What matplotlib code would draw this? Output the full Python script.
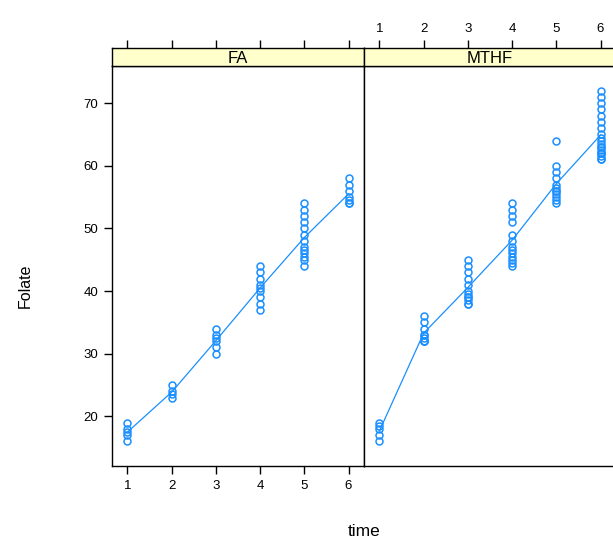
import numpy as np
import matplotlib.pyplot as plt

plt.rcParams['font.family'] = ['Liberation Sans', 'DejaVu Sans']

# folate readings by time point, one list per time
fa_t1 = [16, 17, 17.5, 18, 19]
fa_t2 = [23, 23.5, 24, 25]
fa_t3 = [30, 31, 32, 32.5, 33, 34]
fa_t4 = [37, 38, 39, 40, 40.5, 41, 42, 43, 44]
fa_t5 = [44, 45, 45.5, 46, 46.5, 47, 48, 49, 50, 51, 52, 53, 54]
fa_t6 = [54, 54, 54.5, 55, 56, 57, 58]

mthf_t1 = [16, 17, 18, 18.5, 19]
mthf_t2 = [32, 32, 32, 32.5, 33, 33, 34, 35, 36]
mthf_t3 = [38, 38, 38.5, 39, 39, 39.5, 40, 41, 42, 43, 44, 45]
mthf_t4 = [44, 44.5, 45, 45.5, 46, 46.5, 47, 48, 49, 51, 52, 53, 54]
mthf_t5 = [54, 54.5, 55, 55.5, 56, 56, 56.5, 57, 58, 59, 60, 64]
mthf_t6 = [61, 61, 61.5, 62, 62, 62, 62.5, 63, 63, 63.5, 64, 64.5, 65, 66,
           67, 68, 69, 70, 71, 72]

times = [1, 2, 3, 4, 5, 6]
panels = ["FA", "MTHF"]
groups = {"FA": [fa_t1, fa_t2, fa_t3, fa_t4, fa_t5, fa_t6],
          "MTHF": [mthf_t1, mthf_t2, mthf_t3, mthf_t4, mthf_t5, mthf_t6]}

col = "#1a8fff"
W, H = 613, 546
fig = plt.figure(figsize=(W / 100, H / 100), dpi=100)

px = lambda x0, y0, w, h: [x0 / W, 1 - (y0 + h) / H, w / W, h / H]
pw, top, bot, strip_h = 252, 66, 466, 18
left0 = 112

xlim = (0.65, 6.35)
ylim = (12.08, 75.92)

for k, name in enumerate(panels):
    x0 = left0 + k * pw
    ax = fig.add_axes(px(x0, top, pw, bot - top))
    xs, ys, means = [], [], []
    for t, vals in zip(times, groups[name]):
        xs += [t] * len(vals)
        ys += vals
        means.append(np.mean(vals))
    ax.plot(xs, ys, "o", mfc="none", mec=col, ms=5, mew=1.1)
    ax.plot(times, means, "-", color=col, lw=0.9)
    ax.set_xlim(*xlim)
    ax.set_ylim(*ylim)
    ax.tick_params(direction="out", length=6, width=1, labelsize=9.5,
                   pad=4)
    ax.set_yticks([20, 30, 40, 50, 60, 70])
    ax.set_xticks(times)
    if k == 0:
        ax.tick_params(left=True, labelleft=True, bottom=True,
                       labelbottom=True)
    else:
        ax.tick_params(left=False, labelleft=False, bottom=False,
                       labelbottom=False)
    for s in ax.spines.values():
        s.set_linewidth(1)

    sax = fig.add_axes(px(x0, top - strip_h, pw, strip_h))
    sax.set_facecolor("#ffffcc")
    sax.set_xlim(*xlim)
    sax.set_yticks([])
    sax.set_xticks(times)
    sax.xaxis.set_ticks_position("top")
    sax.tick_params(direction="out", length=6, width=1, labelsize=9.5,
                    pad=3, labeltop=(k == 1))
    sax.text(0.5, 0.42, name, transform=sax.transAxes, ha="center",
             va="center", fontsize=12)
    for s in sax.spines.values():
        s.set_linewidth(1)

fig.text(25 / W, 1 - 286 / H, "Folate", rotation=90, ha="center",
         va="center", fontsize=11.5)
fig.text(364 / W, 1 - 532 / H, "time", ha="center", va="center",
         fontsize=12.5)

fig.savefig("out.png", dpi=100)
